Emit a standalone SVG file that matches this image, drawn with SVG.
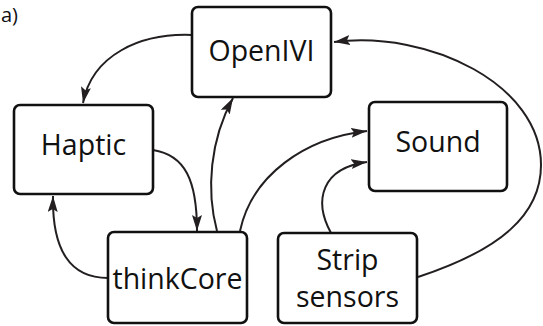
<svg xmlns="http://www.w3.org/2000/svg" width="543" height="326" viewBox="0 0 543 326">
  <style>
    .box { fill: #fff; stroke: #111; stroke-width: 2.6; }
    .lbl { font-family: "Open Sans", "Noto Sans", sans-serif; font-size: 28.5px; fill: #111; text-anchor: middle; }
    .edge { fill: none; stroke: #231f20; stroke-width: 2; marker-end: url(#head); }
  </style>
  <defs>
    <marker id="head" markerUnits="userSpaceOnUse" markerWidth="18" markerHeight="12" refX="16" refY="5" orient="auto">
      <path d="M0,0 L16,5 L0,10 L3,5 z" fill="#231f20"/>
    </marker>
  </defs>
  <rect width="543" height="326" fill="#fff"/>
  <text x="1" y="22" class="lbl" style="text-anchor:start;font-size:20px">a)</text>

  <g id="connectors">
    <path class="edge" d="M192,35 C140,33 92,55 83,103"/>
    <path class="edge" d="M418,277 C500,250 541,215 541,165 C541,85 430,30 334,42"/>
    <path class="edge" d="M153,150 C185,155 197,180 197,231"/>
    <path class="edge" d="M217,231 C206,190 210,140 233,98"/>
    <path class="edge" d="M240,231 C252,175 305,138 367,131"/>
    <path class="edge" d="M108,278 C70,278 52,250 53,196"/>
    <path class="edge" d="M331,233 C313,200 322,168 367,162"/>
  </g>

  <g id="openivi">
    <rect class="box" x="192" y="7" width="139" height="90" rx="6"/>
    <text class="lbl" x="261.5" y="61">OpenIVI</text>
  </g>
  <g id="haptic">
    <rect class="box" x="14" y="105" width="139" height="89" rx="6"/>
    <text class="lbl" x="83.5" y="155">Haptic</text>
  </g>
  <g id="sound">
    <rect class="box" x="369" y="102" width="138" height="89" rx="6"/>
    <text class="lbl" x="438" y="152">Sound</text>
  </g>
  <g id="thinkcore">
    <rect class="box" x="108" y="232" width="139" height="91" rx="6"/>
    <text class="lbl" x="177.5" y="289">thinkCore</text>
  </g>
  <g id="strip-sensors">
    <rect class="box" x="278" y="233" width="139" height="90" rx="6"/>
    <text class="lbl" x="347.5" y="270">Strip</text>
    <text class="lbl" x="347.5" y="307">sensors</text>
  </g>
</svg>
